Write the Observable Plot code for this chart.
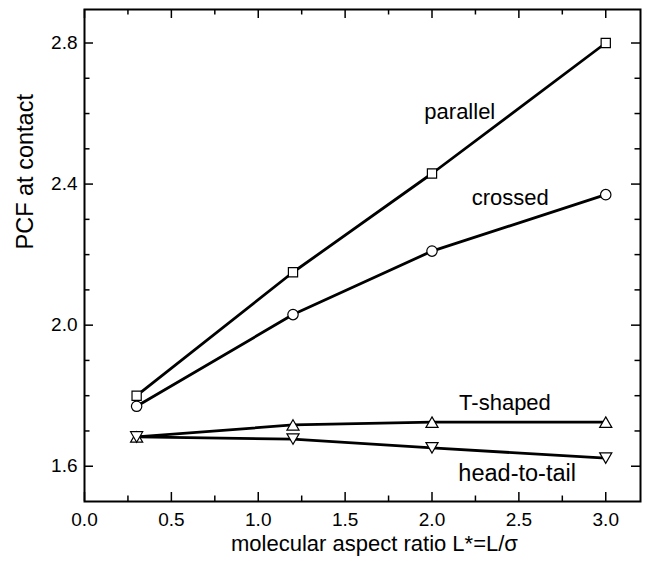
<!DOCTYPE html>
<html><head><meta charset="utf-8">
<script src="https://cdn.jsdelivr.net/npm/d3@7"></script>
<script src="https://cdn.jsdelivr.net/npm/@observablehq/plot@0.6"></script>
<style>body{margin:0;background:#fff}</style>
</head><body><div id="chart"></div>
<script>
const aspectRatio = [0.3, 1.2, 2.0, 3.0];
const parallel = [1.80, 2.15, 2.43, 2.80];
const crossed = [1.77, 2.03, 2.21, 2.37];
const tShaped = [1.683, 1.717, 1.725, 1.725];
const headToTail = [1.683, 1.677, 1.652, 1.623];
const seriesNames = ["parallel", "crossed", "T-shaped", "head-to-tail"];
const seriesValues = [parallel, crossed, tShaped, headToTail];
const seriesSymbols = ["square", "circle", "triangle", "triangle"];
const seriesRotate = [0, 0, 0, 180];
const labelX = [2.16, 2.45, 2.42, 2.49];
const labelY = [2.605, 2.36, 1.778, 1.58];
const labelSize = [22, 22, 22, 23.5];
const xMajorTicks = [0, 0.5, 1.0, 1.5, 2.0, 2.5, 3.0];
const xMinorTicks = [0.25, 0.75, 1.25, 1.75, 2.25, 2.75];
const yMajorTicks = [1.6, 2.0, 2.4, 2.8];
const yMinorTicks = [1.7, 1.8, 1.9, 2.1, 2.2, 2.3, 2.5, 2.6, 2.7];
const xTitle = "molecular aspect ratio L*=L/σ";
const yTitle = "PCF at contact";

const W = 654, H = 561, mL = 84, mR = 14, mT = 9, mB = 60;
const pw = W - mL - mR, ph = H - mT - mB;
const majorLen = 9, minorLen = 5.5;

const marks = [];
const tickStyle = {stroke: "black", strokeWidth: 1.5};
marks.push(Plot.tickX(xMajorTicks, {x: d => d, insetTop: ph - majorLen, ...tickStyle}));
marks.push(Plot.tickX(xMinorTicks, {x: d => d, insetTop: ph - minorLen, ...tickStyle}));
marks.push(Plot.tickX(xMajorTicks, {x: d => d, insetBottom: ph - majorLen, ...tickStyle}));
marks.push(Plot.tickX(xMinorTicks, {x: d => d, insetBottom: ph - minorLen, ...tickStyle}));
marks.push(Plot.tickY(yMajorTicks, {y: d => d, insetRight: pw - majorLen, ...tickStyle}));
marks.push(Plot.tickY(yMinorTicks, {y: d => d, insetRight: pw - minorLen, ...tickStyle}));
marks.push(Plot.tickY(yMajorTicks, {y: d => d, insetLeft: pw - majorLen, ...tickStyle}));
marks.push(Plot.tickY(yMinorTicks, {y: d => d, insetLeft: pw - minorLen, ...tickStyle}));
marks.push(Plot.frame({stroke: "black", strokeWidth: 2}));

seriesValues.forEach((vals) => {
  const rows = aspectRatio.map((x, j) => ({x, y: vals[j]}));
  marks.push(Plot.line(rows, {x: "x", y: "y", stroke: "black", strokeWidth: 2.8}));
});
seriesValues.forEach((vals, i) => {
  const rows = aspectRatio.map((x, j) => ({x, y: vals[j]}));
  const isTri = seriesSymbols[i] === "triangle";
  const r = isTri ? 4.5 : 5.2;
  // centre triangles on their bounding box (as the original symbols are)
  const triH = 3 * Math.sqrt(Math.PI * r * r / (3 * Math.sqrt(3)));
  const shift = isTri ? (seriesRotate[i] === 180 ? -triH / 6 : triH / 6) : 0;
  marks.push(Plot.dot(rows, {
    x: "x", y: "y", symbol: seriesSymbols[i], rotate: seriesRotate[i], r, dy: shift,
    fill: "white", stroke: "black", strokeWidth: 1.2
  }));
});
seriesNames.forEach((n, i) => {
  marks.push(Plot.text([{n, x: labelX[i], y: labelY[i]}], {
    x: "x", y: "y", text: "n", fontSize: labelSize[i], fill: "black"
  }));
});
marks.push(Plot.text([xTitle], {text: d => d, frameAnchor: "bottom", dx: 12, dy: 49, fontSize: 22, fill: "black"}));
marks.push(Plot.text([yTitle], {text: d => d, frameAnchor: "left", dx: -59, dy: -6, rotate: -90, fontSize: 23.5, fill: "black"}));

const chart = Plot.plot({
  width: W, height: H,
  marginLeft: mL, marginRight: mR, marginTop: mT, marginBottom: mB,
  style: {fontFamily: "'Liberation Sans', Arial, sans-serif", fontSize: "19px", background: "white", color: "black"},
  x: {domain: [0, 3.2], ticks: xMajorTicks, tickFormat: d3.format(".1f"), tickSize: 0, tickPadding: 11, label: null},
  y: {domain: [1.5, 2.895], ticks: yMajorTicks, tickFormat: d3.format(".1f"), tickSize: 0, tickPadding: 7, label: null},
  marks
});
document.getElementById("chart").appendChild(chart);
</script>
</body></html>
